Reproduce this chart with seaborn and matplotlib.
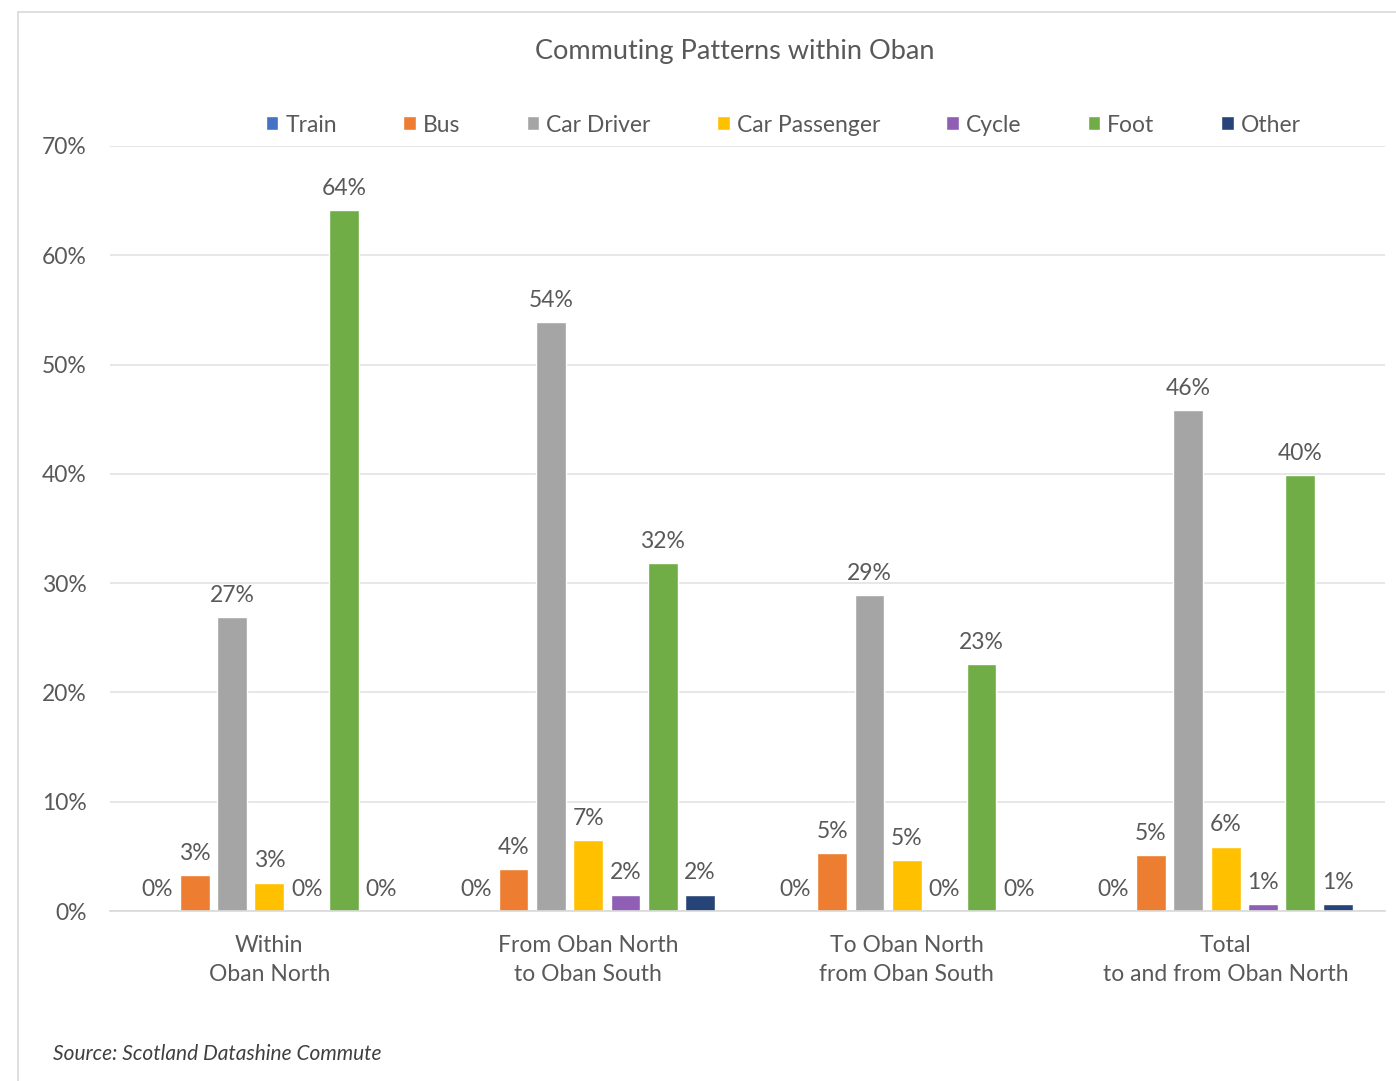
import math
import matplotlib
matplotlib.use("Agg")
import matplotlib.pyplot as plt
import seaborn as sns
import pandas as pd
from matplotlib.patches import Rectangle, Patch

categories = ["Within\nOban North", "From Oban North\nto Oban South",
              "To Oban North\nfrom Oban South", "Total\nto and from Oban North"]
modes = ["Train", "Bus", "Car Driver", "Car Passenger", "Cycle", "Foot", "Other"]
train = [0, 0, 0, 0]
bus = [3.3, 3.8, 5.3, 5.1]
car_driver = [26.9, 53.9, 28.9, 45.8]
car_passenger = [2.6, 6.5, 4.7, 5.9]
cycle = [0, 1.5, 0, 0.6]
foot = [64.1, 31.8, 22.6, 39.9]
other = [0, 1.5, 0, 0.6]
colors = ["#4472c4", "#ed7d31", "#a5a5a5", "#ffc000", "#8e5fb5", "#70ad47", "#264478"]
yticks = [0, 10, 20, 30, 40, 50, 60, 70]

series = [train, bus, car_driver, car_passenger, cycle, foot, other]
rows = []
for m, vals in zip(modes, series):
    for c, v in zip(categories, vals):
        rows.append({"Area": c, "Mode": m, "Value": v})
df = pd.DataFrame(rows)

sns.set_theme(style="white")
plt.rcParams["font.family"] = ["Lato", "DejaVu Sans"]
txt = "#595959"
fs = 16.5

fig = plt.figure(figsize=(13.96, 10.81), dpi=100)
fig.patches.append(Rectangle((18/1396, -0.01), 1.1, 1 - 12/1081 + 0.01,
                             transform=fig.transFigure, fill=False,
                             edgecolor="#d9d9d9", linewidth=1.2))
ax = fig.add_axes([110/1396, 1 - 911/1081, (1385 - 110)/1396, (911 - 146)/1081])

sns.barplot(data=df, x="Area", y="Value", hue="Mode", hue_order=modes,
            palette=colors, width=0.82, gap=0.2, ax=ax, legend=False,
            saturation=1)

ax.set_ylim(0, 70)
ax.set_xlim(-0.5, 3.5)
ax.set_yticks(yticks)
ax.set_yticklabels([f"{t}%" for t in yticks], color=txt, fontsize=fs)
ax.tick_params(axis="y", length=0, pad=17)
ax.tick_params(axis="x", length=0, pad=17, labelsize=fs, labelcolor=txt)
ax.grid(axis="y", color="#e3e3e3", linewidth=1.2)
ax.set_axisbelow(True)
for s in ["left", "right", "top"]:
    ax.spines[s].set_visible(False)
ax.spines["bottom"].set_color("#d9d9d9")
ax.spines["bottom"].set_linewidth(1.2)
ax.set_xlabel("")
ax.set_ylabel("")
for lbl in ax.get_xticklabels():
    lbl.set_linespacing(1.5)

for cont in ax.containers:
    labels = [f"{math.floor(b.get_height() + 0.5)}%" for b in cont]
    ax.bar_label(cont, labels=labels, padding=8, fontsize=fs, color=txt)

fig.text(0.526, 1 - 51/1081, "Commuting Patterns within Oban", ha="center",
         va="center", fontsize=19.5, color=txt)

handles = [Patch(facecolor=c, label=m) for m, c in zip(modes, colors)]
leg = fig.legend(handles=handles, loc="center", bbox_to_anchor=(0.561, 1 - 125/1081),
                 ncol=7, frameon=False, fontsize=fs, handlelength=0.55,
                 handleheight=0.55, handletextpad=0.3, columnspacing=2.9,
                 labelcolor=txt)

fig.text(53/1396, 1 - 1054/1081, "Source: Scotland Datashine Commute",
         fontsize=15, style="italic", color="#404040", va="center")

fig.savefig("out.png", dpi=100)
